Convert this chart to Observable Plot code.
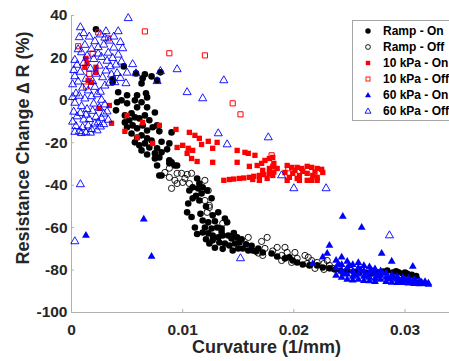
<!DOCTYPE html>
<html>
<head>
<meta charset="utf-8">
<script src="https://cdn.jsdelivr.net/npm/d3@7"></script>
<script src="https://cdn.jsdelivr.net/npm/@observablehq/plot@0.6"></script>
<style>
  html, body { margin: 0; padding: 0; background: #fff; }
  #wrap { position: relative; width: 449px; height: 361px; overflow: hidden; font-family: "Liberation Sans", Arial, Helvetica, sans-serif; }
  #legend { position: absolute; left: 352px; top: 20px; width: 120px; height: 99px; border: 1px solid #a6a6a6; background: #fff; }
</style>
</head>
<body>
<div id="wrap"></div>
<script>
// ---- Data (curvature in 1/mm, resistance change in %) ----
const rampOn = [
  [0.0022,33.5],[0.0047,16.0],
  [0.0058,12.7],[0.0066,12.3],[0.0072,11.3],[0.0080,13.2],[0.0037,9.9],[0.0063,8.0],[0.0064,10.4],[0.0077,9.4],[0.0037,8.5],
  [0.0042,3.8],[0.0050,2.4],[0.0059,2.4],[0.0067,3.3],[0.0068,1.4],[0.0041,-0.9],[0.0045,0.0],[0.0050,-1.4],[0.0057,0.0],
  [0.0063,-0.9],[0.0059,-3.3],[0.0068,-3.3],[0.0075,-5.7],[0.0054,-6.1],[0.0048,-7.1],[0.0040,-4.7],[0.0052,-9.4],[0.0057,-8.0],
  [0.0061,-8.5],[0.0066,-7.1],[0.0070,-9.4],[0.0048,-10.4],[0.0050,-12.7],[0.0055,-11.8],[0.0059,-13.2],[0.0064,-11.8],[0.0068,-14.2],
  [0.0073,-12.7],[0.0077,-11.8],[0.0079,-14.6],[0.0054,-15.6],[0.0059,-17.5],[0.0063,-16.5],[0.0068,-17.9],[0.0072,-18.9],[0.0057,-19.8],
  [0.0061,-21.2],[0.0066,-20.3],[0.0070,-22.2],[0.0077,-22.6],[0.0081,-24.5],[0.0086,-23.1],[0.0063,-23.6],[0.0068,-25.5],[0.0075,-27.4],
  [0.0079,-26.9],[0.0077,-30.7],[0.0088,-29.7],[0.0095,-30.7],[0.0079,-35.4],[0.0090,-15.1],[0.0088,-20.3],[0.0081,-19.5],[0.0090,-29.2],
  [0.0075,-25.0],[0.0088,-28.3],[0.0093,-30.7],[0.0081,-35.4],
  [0.0113,-36.8],[0.0115,-39.2],[0.0118,-41.0],[0.0114,-41.5],[0.0109,-41.0],[0.0117,-43.9],[0.0122,-42.5],[0.0106,-42.5],[0.0109,-46.2],
  [0.0115,-47.2],[0.0105,-48.6],[0.0104,-52.8],[0.0132,-52.8],[0.0127,-54.2],[0.0138,-55.7],[0.0140,-57.5],[0.0118,-56.6],[0.0123,-57.5],
  [0.0120,-59.9],[0.0126,-60.4],[0.0131,-59.9],[0.0135,-60.4],[0.0111,-59.9],[0.0118,-62.3],[0.0123,-62.7],[0.0127,-63.7],[0.0132,-64.6],
  [0.0136,-63.7],[0.0141,-63.7],[0.0144,-65.1],[0.0149,-64.6],[0.0151,-67.0],[0.0147,-67.5],[0.0142,-68.4],[0.0138,-67.5],[0.0133,-67.0],
  [0.0127,-66.0],[0.0124,-67.5],[0.0150,-69.8],[0.0145,-70.8],[0.0154,-69.8],[0.0159,-70.8],[0.0163,-70.8],[0.0168,-69.8],[0.0172,-71.7],
  [0.0180,-72.2],[0.0196,-74.0],[0.0199,-75.5],[0.0126,-46.2],[0.0112,-45.0],[0.0121,-50.0],[0.0116,-53.5],[0.0108,-55.0],[0.0129,-57.0],
  [0.0135,-62.0],[0.0146,-62.5],[0.0153,-65.5],[0.0157,-67.8],[0.0162,-68.5],[0.0136,-70.0],[0.0129,-69.5],[0.0121,-65.5],[0.0113,-63.0],
  [0.0166,-71.2],[0.0185,-73.6],[0.0192,-74.5],[0.0203,-76.4],[0.0208,-77.4],[0.0214,-77.8],[0.0221,-77.8],[0.0226,-78.8],[0.0232,-79.2],
  [0.0237,-79.7],[0.0242,-80.2],[0.0248,-80.2],[0.0254,-80.8],[0.0259,-81.1],[0.0265,-81.3],[0.0270,-81.6],[0.0275,-81.1],[0.0280,-80.7],
  [0.0284,-80.2],[0.0289,-81.2],[0.0294,-81.0],[0.0298,-81.6],[0.0302,-81.8],[0.0306,-82.2],[0.0310,-82.8],[0.0292,-80.6],[0.0300,-81.2]
];
const rampOff = [
  [0.0084,-34.0],[0.0095,-34.4],[0.0099,-34.4],[0.0104,-34.9],[0.0108,-34.4],[0.0088,-36.3],[0.0093,-37.7],[0.0100,-38.7],[0.0106,-39.2],
  [0.0095,-39.2],[0.0090,-41.5],[0.0123,-42.5],[0.0120,-37.7],[0.0120,-47.2],[0.0124,-49.5],[0.0124,-50.5],[0.0122,-52.8],[0.0136,-58.0],
  [0.0159,-64.6],[0.0171,-66.5],[0.0176,-64.6],[0.0174,-69.8],[0.0172,-73.1],[0.0185,-69.3],[0.0192,-69.3],[0.0194,-71.7],[0.0189,-73.1],
  [0.0201,-71.7],[0.0203,-74.5],[0.0198,-76.4],[0.0189,-75.5],[0.0210,-73.1],[0.0213,-74.0],[0.0216,-75.5],[0.0212,-76.9],[0.0221,-76.4],
  [0.0227,-76.9],[0.0230,-75.5],[0.0232,-77.8],[0.0235,-79.2],[0.0241,-78.3],[0.0244,-81.1],[0.0219,-79.2],[0.0227,-79.7],[0.0168,-72.0],
  [0.0181,-71.0],[0.0088,-32.0],[0.0102,-36.8]
];
const tenOn = [
  [0.0013,19.8],[0.0014,17.5],[0.0012,15.6],[0.0022,15.6],[0.0022,13.2],[0.0015,9.4],[0.0018,8.5],[0.0025,-3.8],[0.0036,-10.8],
  [0.0034,-2.4],[0.0050,-7.1],[0.0048,-14.6],[0.0059,-17.5],[0.0064,-10.4],[0.0073,-20.3],[0.0079,-11.8],[0.0094,-13.7],[0.0106,-15.1],
  [0.0111,-16.5],[0.0115,-17.9],[0.0123,-19.3],[0.0131,-19.8],[0.0095,-22.2],[0.0100,-21.2],[0.0105,-22.6],[0.0109,-23.6],[0.0104,-25.0],
  [0.0108,-27.4],[0.0113,-28.8],[0.0127,-29.2],[0.0117,-20.8],[0.0127,-22.6],[0.0149,-23.6],[0.0156,-24.5],[0.0159,-25.0],[0.0165,-25.9],
  [0.0149,-29.2],[0.0160,-31.1],[0.0167,-30.7],[0.0171,-29.7],[0.0174,-28.3],[0.0178,-27.4],[0.0181,-26.9],
  [0.0137,-37.7],[0.0142,-37.3],[0.0146,-37.1],[0.0151,-36.8],[0.0155,-36.6],[0.0160,-36.3],[0.0164,-35.8],[0.0169,-35.4],[0.0173,-35.0],
  [0.0178,-34.4],[0.0182,-33.8],[0.0169,-37.7],[0.0163,-37.3],[0.0176,-36.8],[0.0181,-35.4],[0.0178,-32.1],[0.0172,-33.0],[0.0185,-32.1],
  [0.0182,-29.7],[0.0181,-31.1],
  [0.0194,-30.7],[0.0198,-31.6],[0.0203,-31.6],[0.0207,-32.1],[0.0212,-31.1],[0.0216,-31.6],[0.0221,-32.1],[0.0225,-32.5],[0.0226,-34.0],
  [0.0192,-34.0],[0.0199,-34.4],[0.0205,-35.4],[0.0212,-34.4],[0.0217,-35.4],[0.0221,-36.3],[0.0216,-37.7],[0.0221,-37.7],[0.0212,-37.7],
  [0.0205,-37.7],[0.0203,-36.8],[0.0194,-37.7],[0.0196,-36.3],[0.0208,-33.5],[0.0219,-33.8],[0.0201,-33.0]
];
const tenOff = [
  [0.0006,25.5],[0.0033,29.2],[0.0066,32.5],[0.0088,22.2],[0.0120,21.2],[0.0145,-1.4],[0.0152,-6.6],[0.0180,-25.9],
  [0.0016,12.5],[0.0013,6.5],[0.0019,22.0],[0.0024,32.0],[0.0195,-32.0]
];
const sixtyOn = [
  [0.0013,-63.7],[0.0065,-56.0],[0.0072,-73.6],[0.0232,-68.4],[0.0230,-72.2],[0.0226,-74.0],[0.0217,-77.0],[0.0279,-72.2],
  [0.0288,-75.9],[0.0307,-78.3],[0.0244,-54.7],[0.0261,-59.9],
  [0.0238,-75.5],[0.0238,-79.0],[0.0238,-82.5],
  [0.0243,-74.0],[0.0243,-77.5],[0.0243,-80.5],[0.0243,-83.5],
  [0.0248,-76.0],[0.0248,-79.0],[0.0248,-82.0],[0.0248,-84.5],
  [0.0253,-77.5],[0.0253,-80.5],[0.0253,-83.0],[0.0253,-84.8],
  [0.0258,-76.5],[0.0258,-79.0],[0.0258,-82.0],[0.0258,-84.5],
  [0.0263,-78.0],[0.0263,-80.5],[0.0263,-83.0],[0.0263,-85.0],
  [0.0268,-78.5],[0.0268,-81.0],[0.0268,-83.5],[0.0268,-85.2],
  [0.0273,-79.5],[0.0273,-81.8],[0.0273,-84.0],[0.0273,-85.5],
  [0.0278,-80.5],[0.0278,-82.5],[0.0278,-84.5],
  [0.0283,-81.5],[0.0283,-83.5],[0.0283,-85.5],
  [0.0288,-82.5],[0.0288,-84.0],[0.0288,-85.8],
  [0.0293,-83.0],[0.0293,-84.5],[0.0293,-86.0],
  [0.0298,-83.5],[0.0298,-85.0],[0.0298,-86.0],
  [0.0303,-84.0],[0.0303,-85.3],[0.0303,-86.2],
  [0.0308,-84.5],[0.0308,-85.7],[0.0308,-86.5],
  [0.0313,-85.0],[0.0313,-86.0],[0.0313,-86.6],
  [0.0318,-85.5],[0.0318,-86.5],
  [0.0321,-86.2],[0.0321,-86.8],
  [0.0240,-77.2],[0.0245,-81.8],[0.0250,-78.0],[0.0255,-82.5],[0.0260,-80.0],[0.0265,-82.2],[0.0270,-80.2],[0.0275,-83.0],
  [0.0280,-81.5],[0.0285,-84.2],[0.0290,-83.5],[0.0295,-85.2],[0.0300,-84.5],[0.0305,-85.0],[0.0310,-85.4],[0.0315,-85.8]
];
const sixtyOff = [
  [0.0051,38.7],[0.0042,32.5],[0.0044,27.4],[0.0046,24.5],[0.0055,17.0],[0.0050,13.0],[0.0058,12.7],[0.0080,13.7],[0.0095,14.6],
  [0.0137,9.4],[0.0104,3.8],[0.0118,0.9],[0.0077,9.0],[0.0049,8.0],[0.0039,8.5],[0.0132,-15.6],[0.0140,-20.8],[0.0177,-17.5],
  [0.0189,-35.4],[0.0200,-41.5],[0.0229,-41.5],[0.0152,-74.5],[0.0286,-63.7],[0.0008,-39.6],[0.0003,-66.5],
  [0.0008,34.4],[0.0011,31.6],[0.0007,29.7],[0.0016,30.0],[0.0021,27.8],[0.0026,31.0],[0.0031,32.5],[0.0034,28.1],[0.0038,30.0],
  [0.0012,26.1],[0.0018,24.2],[0.0024,25.0],[0.0029,26.2],[0.0033,22.4],[0.0038,24.8],[0.0042,21.5],[0.0009,22.6],[0.0014,21.0],
  [0.0020,19.4],[0.0027,20.4],[0.0032,18.6],[0.0037,19.9],[0.0040,16.8],[0.0045,18.2],[0.0003,19.0],[0.0006,24.0],[0.0024,22.0],
  [0.0030,29.5],
  [0.0002,14.2],[0.0005,16.7],[0.0003,11.3],[0.0008,13.4],[0.0011,17.6],[0.0013,10.1],[0.0017,14.9],[0.0019,8.9],[0.0022,12.5],
  [0.0025,16.3],[0.0028,10.8],[0.0031,14.0],[0.0034,8.2],[0.0036,12.1],[0.0001,7.5],[0.0006,8.8],[0.0010,5.9],[0.0015,4.6],
  [0.0021,6.3],[0.0026,4.0],[0.0030,6.9],[0.0004,3.2],[0.0044,10.5],[0.0041,12.8],[0.0035,16.0],
  [0.0001,1.5],[0.0003,-1.2],[0.0007,2.1],[0.0009,-2.8],[0.0012,0.8],[0.0014,-4.2],[0.0018,1.9],[0.0020,-1.6],[0.0023,2.8],
  [0.0025,-3.5],[0.0027,0.2],[0.0029,-6.3],[0.0002,-5.4],[0.0005,-7.6],[0.0008,-6.0],[0.0011,-9.1],[0.0013,-6.8],[0.0016,-8.9],
  [0.0019,-5.0],[0.0022,-7.8],[0.0024,-10.4],[0.0027,-8.5],[0.0030,-2.0],[0.0032,-5.3],[0.0033,-9.2],[0.0001,-10.1],[0.0004,-12.2],
  [0.0007,-14.6],[0.0010,-12.7],[0.0013,-15.1],[0.0015,-11.9],[0.0018,-13.6],[0.0021,-11.0],[0.0023,-14.2],[0.0026,-12.4],
  [0.0029,-11.3],[0.0003,-14.9],[0.0017,-15.3],[0.0009,-15.5]
];

const xTicks = [0, 0.01, 0.02, 0.03];
const xTickLabels = ["0", "0.01", "0.02", "0.03"];
const yTicks = [-100, -80, -60, -40, -20, 0, 20, 40];
const yTickLabels = ["-100", "-80", "-60", "-40", "-20", "0", "20", "40"];
const xLabel = "Curvature (1/mm)";
const yLabel = "Resistance Change \u2206 R (%)";
const legendLabels = ["Ramp - On", "Ramp - Off", "10 kPa - On", "10 kPa - Off", "60 kPa - On", "60 kPa - Off"];

// ---- Chart ----
const FONT = "'Liberation Sans', Arial, Helvetica, sans-serif";
const TXT = "#262626";
const AX = "#b0b0b0";
const px = d => d[0], py = d => d[1];

const chart = Plot.plot({
  width: 449, height: 361,
  marginLeft: 71, marginRight: 0, marginTop: 15, marginBottom: 49,
  style: {fontFamily: FONT, background: "transparent", overflow: "visible"},
  x: {domain: [0, 0.034]},
  y: {domain: [-100, 40]},
  marks: [
    Plot.ruleY([-100], {stroke: AX, strokeWidth: 1}),
    Plot.ruleX([0], {stroke: AX, strokeWidth: 1}),
    Plot.axisX({ticks: xTicks, tickFormat: d => xTickLabels[xTicks.indexOf(d)], tickSize: -3, tickPadding: 14,
      stroke: AX, fill: TXT, fontSize: 15.5, fontWeight: "bold", label: null}),
    Plot.axisY({ticks: yTicks, tickFormat: d => yTickLabels[yTicks.indexOf(d)], tickSize: -3, tickPadding: 7,
      stroke: AX, fill: TXT, fontSize: 15.5, fontWeight: "bold", label: null}),
    Plot.text([xLabel], {frameAnchor: "bottom", dx: 6, dy: 40, fill: TXT, fontSize: 18, fontWeight: "bold"}),
    Plot.dot(rampOn, {x: px, y: py, r: 3.3, symbol: "circle", fill: "#000", stroke: "none"}),
    Plot.dot(rampOff, {x: px, y: py, r: 3.1, symbol: "circle", fill: "none", stroke: "#000", strokeWidth: 0.9}),
    Plot.dot(tenOn, {x: px, y: py, r: 3.0, symbol: "square", fill: "#ff0000", stroke: "none"}),
    Plot.dot(tenOff, {x: px, y: py, r: 2.9, symbol: "square", fill: "none", stroke: "#ff0000", strokeWidth: 1}),
    Plot.dot(sixtyOn, {x: px, y: py, r: 2.9, symbol: "triangle", fill: "#0000ff", stroke: "none"}),
    Plot.dot(sixtyOff, {x: px, y: py, r: 3.0, symbol: "triangle", fill: "none", stroke: "#0000ff", strokeWidth: 0.9})
  ]
});

const ns = "http://www.w3.org/2000/svg";
// rotated y-axis title
const yt = document.createElementNS(ns, "text");
yt.setAttribute("transform", "translate(23,148) rotate(-90)");
yt.setAttribute("text-anchor", "middle");
yt.setAttribute("dy", "0.35em");
yt.setAttribute("font-family", FONT);
yt.setAttribute("font-size", "18");
yt.setAttribute("font-weight", "bold");
yt.setAttribute("fill", TXT);
yt.textContent = yLabel;
chart.appendChild(yt);

const wrap = document.getElementById("wrap");
wrap.appendChild(chart);

// ---- Legend ----
const legend = document.createElement("div");
legend.id = "legend";
const lsvg = document.createElementNS(ns, "svg");
lsvg.setAttribute("width", "120");
lsvg.setAttribute("height", "99");
const markerDefs = [
  {shape: "circle", fill: "#000", stroke: "none"},
  {shape: "circle", fill: "none", stroke: "#000"},
  {shape: "square", fill: "#ff0000", stroke: "none"},
  {shape: "square", fill: "none", stroke: "#ff0000"},
  {shape: "triangle", fill: "#0000ff", stroke: "none"},
  {shape: "triangle", fill: "none", stroke: "#0000ff"}
];
legendLabels.forEach((lab, i) => {
  const cy = 10 + i * 16, cx = 15;
  const m = markerDefs[i];
  let el;
  if (m.shape === "circle") {
    el = document.createElementNS(ns, "circle");
    el.setAttribute("cx", cx); el.setAttribute("cy", cy); el.setAttribute("r", m.fill === "none" ? 2.4 : 2.7);
  } else if (m.shape === "square") {
    el = document.createElementNS(ns, "rect");
    const s = m.fill === "none" ? 4 : 4.4;
    el.setAttribute("x", cx - s / 2); el.setAttribute("y", cy - s / 2); el.setAttribute("width", s); el.setAttribute("height", s);
  } else {
    el = document.createElementNS(ns, "path");
    el.setAttribute("d", `M${cx},${cy - 3}L${cx + 3},${cy + 2.2}L${cx - 3},${cy + 2.2}Z`);
  }
  el.setAttribute("fill", m.fill);
  el.setAttribute("stroke", m.stroke);
  el.setAttribute("stroke-width", "0.9");
  lsvg.appendChild(el);
  const t = document.createElementNS(ns, "text");
  t.setAttribute("x", 30); t.setAttribute("y", cy);
  t.setAttribute("dy", "0.35em");
  t.setAttribute("font-family", FONT);
  t.setAttribute("font-size", "12");
  t.setAttribute("font-weight", "bold");
  t.setAttribute("fill", "#000");
  t.textContent = lab;
  lsvg.appendChild(t);
});
legend.appendChild(lsvg);
wrap.appendChild(legend);
</script>
</body>
</html>
